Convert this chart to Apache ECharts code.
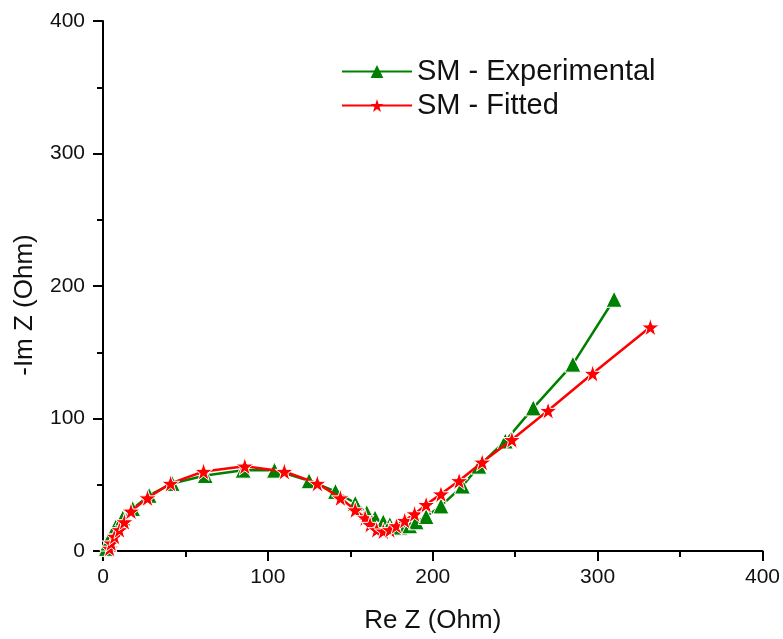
<!DOCTYPE html>
<html>
<head>
<meta charset="utf-8">
<script src="https://cdn.jsdelivr.net/npm/echarts@6/dist/echarts.min.js"></script>
<style>html,body{margin:0;padding:0;background:#fff}#c{width:783px;height:639px}</style>
</head>
<body>
<div id="c"></div>
<script>
var seriesNames = ['SM - Experimental', 'SM - Fitted'];
var expRe = [2,3,5,8,12,18,28,42,62,85,104,125,141,153,160,165,170,174,180,186,190,196,205,218,228,244,261,285,310];
var expIm = [2,6,12,19,25,32,42,51,57,61,61,53,45,36,29,25,22,20,18,19,22,26,34,49,64,83,108,141,190];
var fitRe = [4,5,7,10,13,17,27,41,61,86,110,130,144,153,159,162,166,170,174,178,183,189,196,205,216,230,248,270,297,332];
var fitIm = [2,6,11,16,22,30,40,51,60,64,60,51,40,31,25,20,16,15,16,19,23,28,35,43,53,67,84,106,134,169];
var xTicks = [0,100,200,300,400];
var yTicks = [0,100,200,300,400];

function pairs(a, b){ return a.map(function(v,i){ return [v, b[i]]; }); }

var FONT = 'Liberation Sans, Arial, sans-serif';
var STAR = 'path://M50,0 L61.8,35.3 L99,35.3 L69,57.3 L80.3,92.7 L50,70.8 L19.7,92.7 L31,57.3 L1,35.3 L38.2,35.3 Z';
var chart = echarts.init(document.getElementById('c'));
var axisCommon = {
  interval: 100,
  axisLine: {show: true, onZero: false, lineStyle: {color: '#000', width: 2}},
  axisTick: {show: true, inside: false, length: 10, lineStyle: {color: '#000', width: 2}},
  minorTick: {show: true, splitNumber: 2, length: 6, lineStyle: {color: '#000', width: 2}},
  splitLine: {show: false}
};
chart.setOption({
  animation: false,
  backgroundColor: '#fff',
  grid: {left: 103, right: 20, top: 21, bottom: 86, containLabel: false},
  legend: {
    left: 336, top: 52, orient: 'vertical', itemGap: 5,
    itemWidth: 70, itemHeight: 16,
    textStyle: {fontSize: 29, color: '#111', fontFamily: FONT},
    itemStyle: {borderWidth: 0},
    data: seriesNames
  },
  xAxis: Object.assign({}, axisCommon, {
    type: 'value', name: 'Re Z (Ohm)', nameLocation: 'middle', nameGap: 57,
    min: xTicks[0], max: xTicks[xTicks.length-1],
    nameTextStyle: {color: '#111', fontSize: 26, fontFamily: FONT},
    axisLabel: {color: '#111', fontSize: 21, fontFamily: FONT, margin: 16}
  }),
  yAxis: Object.assign({}, axisCommon, {
    type: 'value', name: '-Im Z (Ohm)', nameLocation: 'middle', nameGap: 65,
    min: yTicks[0], max: yTicks[yTicks.length-1],
    nameTextStyle: {color: '#111', fontSize: 26, fontFamily: FONT, padding: [0, 38, 0, 0]},
    axisLabel: {color: '#111', fontSize: 21, fontFamily: FONT, margin: 18}
  }),
  series: [
    {
      name: seriesNames[0], type: 'line', data: pairs(expRe, expIm),
      symbol: 'triangle', symbolSize: 16, showAllSymbol: true,
      lineStyle: {color: '#008000', width: 2.5},
      itemStyle: {color: '#008000', borderColor: '#fff', borderWidth: 1},
      z: 2
    },
    {
      name: seriesNames[1], type: 'line', data: pairs(fitRe, fitIm),
      symbol: STAR, symbolSize: 18, showAllSymbol: true,
      lineStyle: {color: '#ff0000', width: 2.5},
      itemStyle: {color: '#ff0000', borderColor: '#fff', borderWidth: 1},
      z: 3
    }
  ]
});
</script>
</body>
</html>
